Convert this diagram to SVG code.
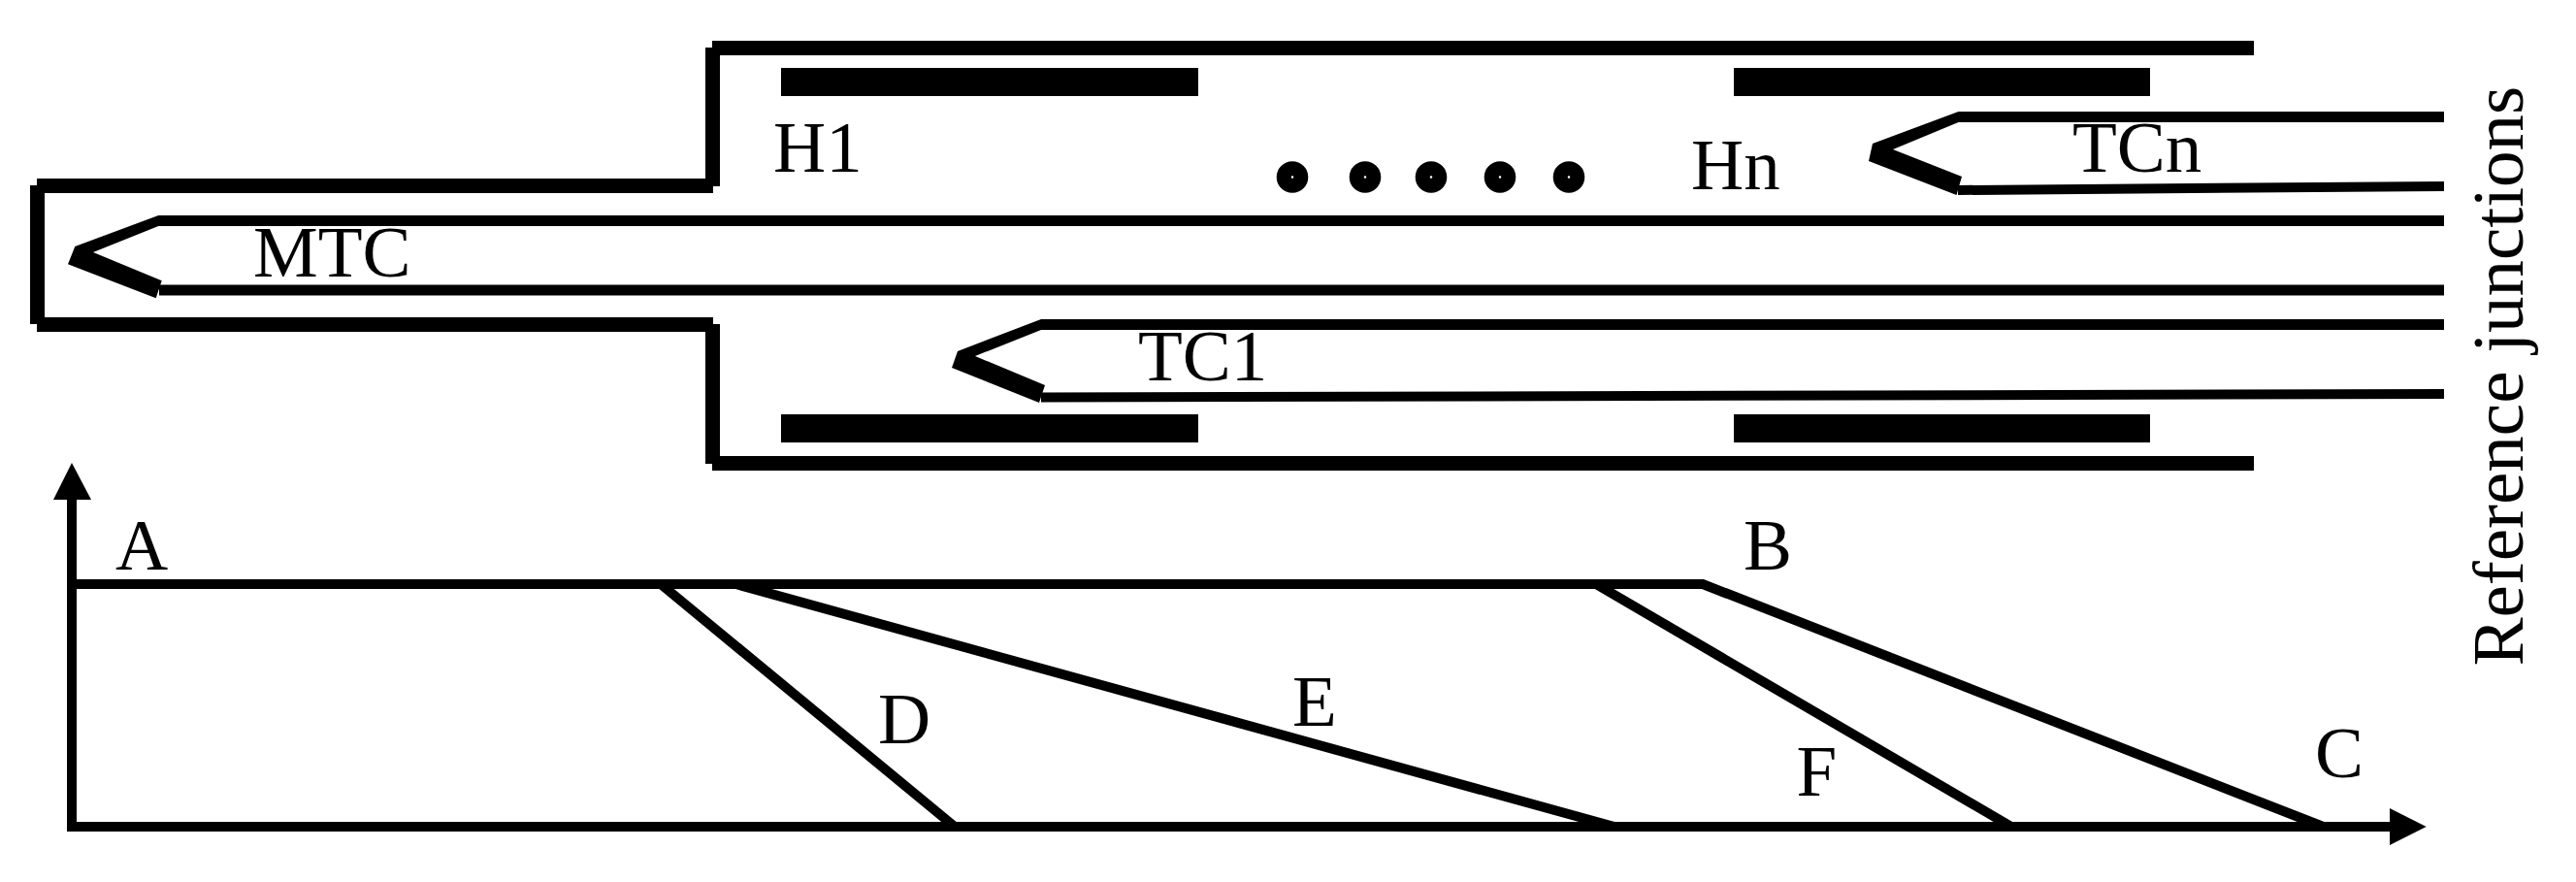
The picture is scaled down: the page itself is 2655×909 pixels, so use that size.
<svg xmlns="http://www.w3.org/2000/svg" width="2655" height="909" viewBox="0 0 2655 909">
<style>
.lbl{font-family:"Liberation Serif","Times New Roman",serif;font-size:75px;fill:#000}
.w15{fill:none;stroke:#000;stroke-width:15}
.wire{fill:none;stroke:#000;stroke-width:11}
.thin{fill:none;stroke:#000;stroke-width:10}
.bar{fill:#000}
.dot{fill:#fff;stroke:#000;stroke-width:15}
</style>
<rect width="2655" height="909" fill="#fff"/>
<g id="furnace">
<path class="w15" d="M2323 49.500H734M734.500 49V192M735 191.500H38M38.500 191V334M38 334.500H735M734.500 334V478M734 477.500H2323"/>
<rect class="bar" x="805" y="70" width="430" height="29"/>
<rect class="bar" x="805" y="427" width="430" height="29"/>
<rect class="bar" x="1787" y="70" width="429" height="29"/>
<rect class="bar" x="1787" y="427" width="429" height="29"/>
</g>
<g id="dots">
<circle class="dot" cx="1332" cy="182.500" r="8.800"/>
<circle class="dot" cx="1407" cy="182.500" r="8.800"/>
<circle class="dot" cx="1475" cy="182.500" r="8.800"/>
<circle class="dot" cx="1546" cy="182.500" r="8.800"/>
<circle class="dot" cx="1617" cy="182.500" r="8.800"/>
</g>
<g id="MTC">
<polygon class="bar" points="163.300,222 2519,222 2519,233 163.300,233 96,260 166.700,289.300 160.700,307.300 70,272.300 77.300,254"/>
<path class="wire" d="M164 299H2519"/>
<text class="lbl" x="261" y="285">MTC</text>
</g>
<g id="TC1">
<polygon class="bar" points="1073,329 2519,329 2519,340 1073,340 1005,367 1077,397 1071,415 981,379 987,362"/>
<path class="thin" d="M1073 409.500L2519 406"/>
<text class="lbl" x="1173" y="392">TC1</text>
</g>
<g id="TCn">
<polygon class="bar" points="2018.500,115 2519,115 2519,126 2018.500,126 1951,154 2022,182 2016.500,201 1926,166 1930,148"/>
<path class="thin" d="M2018 196L2519 192"/>
<text class="lbl" x="2136" y="177">TCn</text>
</g>
<g id="labels">
<text class="lbl" x="797" y="177">H1</text>
<text class="lbl" x="1743" y="195">Hn</text>
<text class="lbl" x="119" y="587">A</text>
<text class="lbl" x="1797" y="587">B</text>
<text class="lbl" x="2386" y="801">C</text>
<text class="lbl" x="905" y="766">D</text>
<text class="lbl" x="1332" y="748">E</text>
<text class="lbl" x="1851.500" y="819.500">F</text>
<text class="lbl" transform="translate(2600 686.500) rotate(-90)">Reference junctions</text>
</g>
<g id="connectors">
<path class="thin" d="M74 515V857M74 852H2463"/>
<polygon class="bar" points="74,477 94,515 55,515"/>
<polygon class="bar" points="2500.700,852 2463,833 2463,871"/>
<path class="thin" d="M74 602H1755L2394.500 852"/>
<path class="thin" d="M681 602L984 852"/>
<path class="thin" d="M758.500 602L1663.800 852"/>
<path class="thin" d="M1645 602L2073 852"/>
</g>
</svg>
